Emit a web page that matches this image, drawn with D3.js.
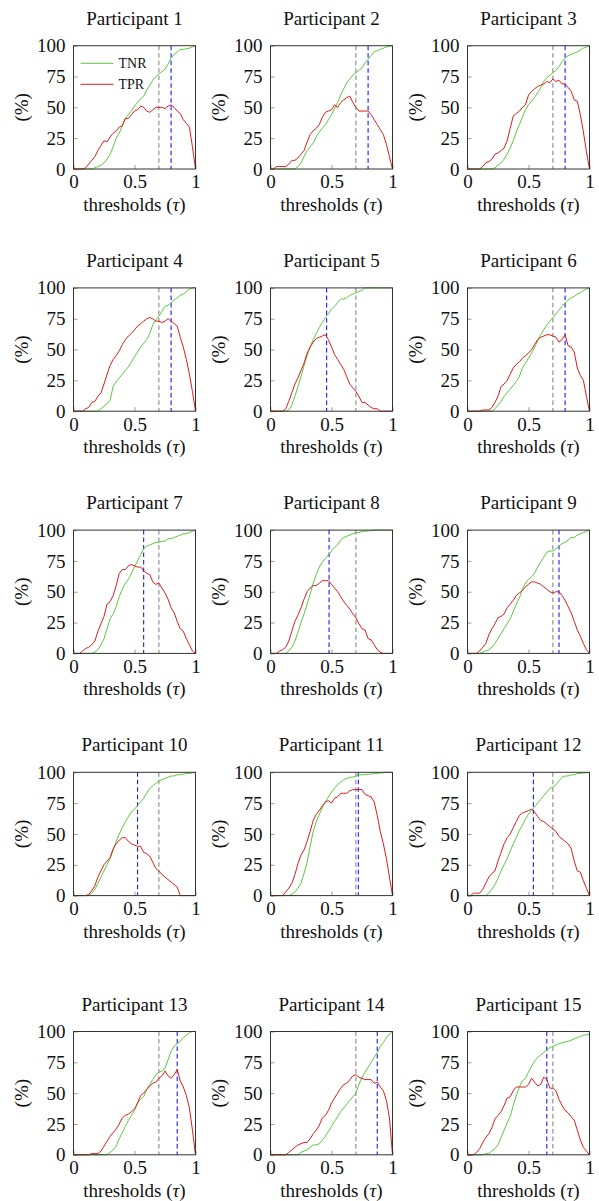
<!DOCTYPE html>
<html>
<head>
<meta charset="utf-8">
<script src="https://cdn.jsdelivr.net/npm/d3@7.9.0/dist/d3.min.js"></script>
<style>
  body { margin: 0; background: #fff; }
</style>
</head>
<body>
<svg id="chart" width="599" height="1201" style="font-family: 'Liberation Serif', 'DejaVu Serif', serif;"></svg>
<script>
// decision thresholds on the x axis
const thresholds = [0,0.025,0.05,0.075,0.1,0.125,0.15,0.175,0.2,0.225,0.25,0.275,0.3,0.325,0.35,0.375,0.4,0.425,0.45,0.475,0.5,0.525,0.55,0.575,0.6,0.625,0.65,0.675,0.7,0.725,0.75,0.775,0.8,0.825,0.85,0.875,0.9,0.925,0.95,0.975,1];

const tnrP1 = [0,0,0,0,0,0,0,1,2,3,5,8,12,18,25,29,35,41,44,47,51,54,57,59,64,68,72,75,77,79,81,85,90,93,95,97,97,97.5,98,99,100];
const tprP1 = [0,0,0,0,1,4,7,10,15,19,23,22,26,29,31,34,35,41,41,44,47,48,51,50,47,46,48,50,50,50,49,51,52,50,47,45,40,37,34,18,0];
const tnrP2 = [0,0,0,0,0,0,0,0,0,2,5,10,15,18,21,26,30,33,36,40,44,49,54,60,65,70,73,76,78,80,82,86,89,92,95,96,97,98,99,99.5,100];
const tprP2 = [0,0,2,2,2,2,4,7,7,9,12,15,22,28,31,33,36,42,46,47,48,52,50,54,56,58,59,54,50,47,47,47,47,44,40,36,32,28,20,10,0];
const tnrP3 = [0,0,0,0,0,0,0,0,0,1,3,5,8,12,17,23,30,36,42,48,52,55,58,62,66,71,74,76,78,80,83,87,90,92,93,94,95,96.5,98,99,100];
const tprP3 = [0,0,0,0,0,2,5,6,8,12,13,15,17,23,33,43,45,47,50,52,60,63,65,67,68,69,71,70,73,71,72,69,69,66,63,56,55,44,30,14,0];
const tnrP4 = [0,0,0,0,0,0,0,0,0,2,4,6,9,20,24,27,30,33,36,40,44,48,52,55,58,63,70,74,77,81,85,86,88,90,92,94,95,97,99,100,100];
const tprP4 = [0,0,0,0,2,3,7,8,12,15,22,30,37,42,45,49,54,58,61,63,66,69,71,73,75,76,75,73,73,72,73,75,73,71,69,60,52,42,30,16,0];
const tnrP5 = [0,0,0,0,0,0,1,5,12,20,28,37,45,52,58,63,68,72,76,79,83,85,88,91,91,92,94,95,96,97,98,100,100,100,100,100,100,100,100,100,100];
const tprP5 = [0,0,0,0,0,2,8,15,22,27,33,39,47,52,56,59,60,61,62,58,52,46,42,38,34,28,22,19,16,12,7,7,5,3,2,2,0,0,0,0,0];
const tnrP6 = [0,0,0,0,0,0,0,0,0,2,5,8,12,15,18,21,24,28,35,39,43,47,52,57,62,66,70,73,76,79,82,85,88,90,92,93,95,96,98,99,100];
const tprP6 = [0,0,0,0,0,1,1,1,3,7,12,20,22,25,30,35,38,40,43,45,47,50,54,58,60,61,62,62,61,60,56,58,62,53,52,48,35,29,25,12,0];
const tnrP7 = [0,0,0,0,0,0,0,1,3,7,12,20,28,32,38,46,52,57,60,65,70,75,80,85,87,88,89,90,90,91,91,93,93,94,95,96,97,97,98,99,100];
const tprP7 = [0,0,0,2,4,5,7,10,18,24,30,40,42,47,55,65,68,68,71,72,71,70,70,67,65,64,58,56,57,53,49,44,37,33,26,20,18,12,7,2,0];
const tnrP8 = [0,0,0,0,0,0,2,5,10,17,25,32,40,48,57,64,70,74,77,80,83,86,88,92,94,95,96,97,98,98,99,99,99.5,99.5,100,100,100,100,100,100,100];
const tprP8 = [0,0,0,2,3,5,10,18,26,31,37,44,50,53,55,55,57,59,59,59,56,53,50,46,42,39,36,32,29,24,20,19,12,11,7,3,1,0,0,0,0];
const tnrP9 = [0,0,0,0,0,1,2,3,5,8,12,16,20,24,28,34,40,45,52,57,60,62,65,70,74,78,82,83,83,85,87,89,90,92,94,94,96,97,98,99,100];
const tprP9 = [0,0,0,0,2,5,8,15,20,24,29,30,32,37,40,43,47,49,51,54,56,58,58,57,56,54,52,50,49,50,50,47,43,38,33,26,19,14,8,3,0];
const tnrP10 = [0,0,0,0,0,0,2,5,10,15,20,25,30,37,44,50,55,60,64,68,70,73,76,79,83,87,89,91,93,94,95,96,97,97,98,98,98.5,99,99,99.5,100];
const tprP10 = [0,0,0,0,0,1,4,8,15,20,25,28,31,38,42,45,47,47,44,42,41,40,40,35,34,32,27,22,20,17,15,13,11,9,7,0,0,0,0,0,0];
const tnrP11 = [0,0,0,0,0,0,0,1,3,6,10,18,27,40,52,60,66,71,76,80,84,87,90,92,94,95,96,96,97,98,98,98,98.5,98.5,99,99,99.5,99.5,100,100,100];
const tprP11 = [0,0,0,0,0,3,6,10,17,26,33,37,44,52,61,66,69,73,76,77,75,79,80,83,83,83,85,86,86,86,86,82,81,80,76,65,52,42,30,15,0];
const tnrP12 = [0,0,0,0,0,0,0,2,5,9,14,20,25,30,36,42,47,53,57,62,66,69,72,75,78,81,84,87,88,90,93,96,97,97,98,98,99,99,99.5,99.5,100];
const tprP12 = [0,0,2,2,2,5,10,15,18,20,28,35,42,47,50,55,60,65,67,68,69,70,68,64,61,60,58,56,54,52,48,46,44,42,38,28,20,19,12,6,0];
const tnrP13 = [0,0,0,0,0,0,0,0,0,0,0,0,2,4,7,13,18,23,28,32,36,42,45,47,53,57,61,65,67,68,70,77,84,88,90,92,95,97,99,100,100];
const tprP13 = [0,0,0,0,0,0,1,1,1,3,7,11,15,18,21,25,30,32,33,35,37,42,48,50,53,56,58,59,62,64,68,64,62,65,69,60,55,48,38,20,0];
const tnrP14 = [0,0,0,0,0,0,0,0,0,0,2,3,4,6,8,8,9,12,15,19,23,27,31,35,38,41,44,47,50,57,63,67,71,75,79,83,88,91,95,98,100];
const tprP14 = [0,0,0,0,0,0,2,4,6,8,9,10,10,13,17,20,24,30,32,36,42,46,50,54,57,58,61,64,65,63,62,61,61,61,58,59,55,52,44,30,0];
const tnrP15 = [0,0,0,0,0,0,1,1,3,5,8,14,20,26,31,40,48,55,60,62,67,72,76,79,81,83,85,87,88,89,90,91,91.5,92,93,94,95,96,97,97.5,98];
const tprP15 = [0,0,0,2,5,10,14,17,22,29,32,35,40,46,47,52,55,55,55,55,57,62,59,56,57,63,61,54,54,52,45,40,36,34,31,28,20,12,6,3,0];

// chosen threshold per participant (blue) and the common one (gray)
const bestTau = [0.8,0.8,0.8,0.8,0.46,0.8,0.575,0.48,0.75,0.525,0.72,0.54,0.85,0.875,0.65];
const commonTau = 0.7;
const yTicks = [0,25,50,75,100];
const xTicks = [0,0.5,1];

const tnrAll = [tnrP1,tnrP2,tnrP3,tnrP4,tnrP5,tnrP6,tnrP7,tnrP8,tnrP9,tnrP10,tnrP11,tnrP12,tnrP13,tnrP14,tnrP15];
const tprAll = [tprP1,tprP2,tprP3,tprP4,tprP5,tprP6,tprP7,tprP8,tprP9,tprP10,tprP11,tprP12,tprP13,tprP14,tprP15];

const panels = tnrAll.map((tnr, i) => ({
  name: `Participant ${i + 1}`,
  tnr: thresholds.map((t, k) => ({ t, v: tnr[k] })),
  tpr: thresholds.map((t, k) => ({ t, v: tprAll[i][k] })),
  tau: bestTau[i]
}));

const FONT = "'Liberation Serif', 'DejaVu Serif', serif";
const svg = d3.select("#chart");
const colX = [73.5, 270.5, 467.5];
const rowY = [45.7, 287.9, 530.1, 772.3, 1031.5];
const W = 122, H = 123.3;
const GREEN = "#5cc83c", RED = "#dd1c1c";

const x = d3.scaleLinear().domain([0, 1]).range([0, W]);
const y = d3.scaleLinear().domain([0, 100]).range([H, 0]);
const line = d3.line().x(d => x(d.t)).y(d => y(d.v));

function label(sel, size) {
  return sel.style("font-family", FONT).style("font-size", size + "px").attr("fill", "#111");
}

panels.forEach((p, i) => {
  const g = svg.append("g")
    .attr("transform", `translate(${colX[i % 3]},${rowY[Math.floor(i / 3)]})`);

  // axes with inward ticks
  const ya = g.append("g")
    .call(d3.axisLeft(y).tickValues(yTicks).tickSize(-4).tickPadding(8));
  const xa = g.append("g")
    .attr("transform", `translate(0,${H})`)
    .call(d3.axisBottom(x).tickValues(xTicks).tickSize(-4).tickPadding(6).tickFormat(d => String(d)));
  [ya, xa].forEach(a => {
    a.attr("font-family", null).attr("font-size", null);
    a.select(".domain").remove();
    a.selectAll("line").attr("stroke", "#9a9a9a");
    label(a.selectAll("text"), 19);
  });

  // reference lines
  g.append("line")
    .attr("x1", x(commonTau)).attr("x2", x(commonTau))
    .attr("y1", 0).attr("y2", H)
    .attr("stroke", "#7a7a7a").attr("stroke-width", 1)
    .attr("stroke-dasharray", "4.5 3");
  g.append("line")
    .attr("x1", x(p.tau)).attr("x2", x(p.tau))
    .attr("y1", 0).attr("y2", H)
    .attr("stroke", "#1a1aff").attr("stroke-width", 1.1)
    .attr("stroke-dasharray", "4.5 3");

  g.append("path").datum(p.tnr)
    .attr("fill", "none").attr("stroke", GREEN).attr("stroke-width", 1)
    .attr("d", line);
  g.append("path").datum(p.tpr)
    .attr("fill", "none").attr("stroke", RED).attr("stroke-width", 1)
    .attr("d", line);

  g.append("rect")
    .attr("width", W).attr("height", H)
    .attr("fill", "none").attr("stroke", "#333").attr("stroke-width", 1);

  label(g.append("text"), 19)
    .attr("x", W / 2).attr("y", -21)
    .attr("text-anchor", "middle")
    .text(p.name);

  label(g.append("text"), 19)
    .attr("transform", `translate(-52,${H / 2}) rotate(-90)`)
    .attr("text-anchor", "middle")
    .attr("dy", "0.35em")
    .text("(%)");

  const xl = label(g.append("text"), 19)
    .attr("x", W / 2).attr("y", H + 42)
    .attr("text-anchor", "middle");
  xl.append("tspan").text("thresholds (");
  xl.append("tspan").style("font-style", "italic").text("τ");
  xl.append("tspan").text(")");

  if (i === 0) {
    const legend = [{ label: "TNR", color: GREEN }, { label: "TPR", color: RED }];
    legend.forEach((l, k) => {
      const ly = 17.6 + k * 21;
      g.append("line")
        .attr("x1", 7).attr("x2", 40)
        .attr("y1", ly).attr("y2", ly)
        .attr("stroke", l.color).attr("stroke-width", 1);
      label(g.append("text"), 14)
        .attr("x", 45).attr("y", ly + 4.5)
        .text(l.label);
    });
  }
});
</script>
</body>
</html>
